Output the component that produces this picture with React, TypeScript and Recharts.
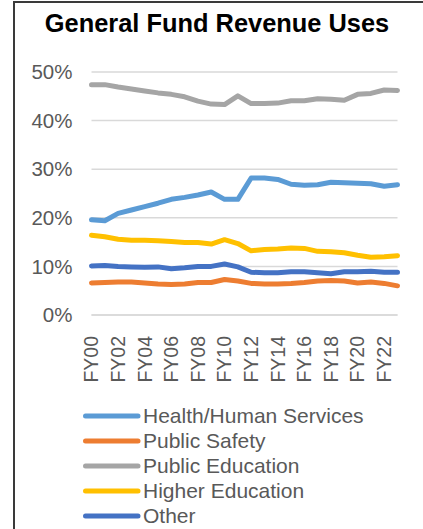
import { LineChart, Line, XAxis, YAxis, CartesianGrid } from "recharts";

const years = [
  "FY00", "FY01", "FY02", "FY03", "FY04", "FY05", "FY06", "FY07",
  "FY08", "FY09", "FY10", "FY11", "FY12", "FY13", "FY14", "FY15",
  "FY16", "FY17", "FY18", "FY19", "FY20", "FY21", "FY22", "FY23",
];

const healthHuman = [
  19.6, 19.4, 20.9, 21.6, 22.3, 23.0, 23.8, 24.2, 24.7, 25.3, 23.8, 23.8,
  28.2, 28.2, 27.9, 26.9, 26.7, 26.8, 27.3, 27.2, 27.1, 27.0, 26.5, 26.8,
];
const publicSafety = [
  6.6, 6.7, 6.8, 6.8, 6.6, 6.4, 6.3, 6.4, 6.7, 6.7, 7.3, 7.0,
  6.5, 6.4, 6.4, 6.5, 6.7, 7.0, 7.1, 7.0, 6.6, 6.8, 6.5, 6.0,
];
const publicEducation = [
  47.4, 47.4, 46.9, 46.5, 46.1, 45.7, 45.4, 44.9, 44.0, 43.4, 43.3, 45.1,
  43.5, 43.5, 43.6, 44.1, 44.1, 44.5, 44.4, 44.2, 45.4, 45.6, 46.3, 46.2,
];
const higherEducation = [
  16.4, 16.1, 15.6, 15.4, 15.4, 15.3, 15.1, 14.9, 14.9, 14.6, 15.5, 14.7,
  13.2, 13.5, 13.6, 13.8, 13.7, 13.1, 13.0, 12.8, 12.3, 11.9, 12.0, 12.2,
];
const other = [
  10.1, 10.2, 10.0, 9.9, 9.8, 9.9, 9.5, 9.7, 10.0, 10.0, 10.5, 9.9,
  8.8, 8.7, 8.7, 8.9, 8.9, 8.7, 8.5, 8.9, 8.9, 9.0, 8.8, 8.8,
];

const yTicks = [0, 10, 20, 30, 40, 50];

const series = [
  { key: "health", name: "Health/Human Services", color: "#5b9bd5", values: healthHuman },
  { key: "safety", name: "Public Safety", color: "#ed7d31", values: publicSafety },
  { key: "pubEd", name: "Public Education", color: "#a5a5a5", values: publicEducation },
  { key: "higherEd", name: "Higher Education", color: "#ffc000", values: higherEducation },
  { key: "other", name: "Other", color: "#4472c4", values: other },
];

const data = years.map((year, i) => {
  const row: Record<string, string | number> = { year };
  series.forEach((s) => {
    row[s.key] = s.values[i];
  });
  return row;
});

const FONT = "'Liberation Sans', Arial, sans-serif";
const TEXT = "#595959";

function YearTick(props: any) {
  const { x, y, payload } = props;
  return (
    <text
      transform={`translate(${x},${y + 13}) rotate(-90)`}
      textAnchor="end"
      dy="0.35em"
      fill={TEXT}
      fontSize={19.5}
      fontFamily={FONT}
    >
      {payload.value}
    </text>
  );
}

export default function App() {
  return (
    <div style={{ position: "absolute", left: 0, top: 0, width: 423, height: 529, background: "#fff", overflow: "hidden" }}>
      <div
        style={{
          position: "absolute",
          left: 13,
          top: 1,
          width: 410,
          height: 528,
          borderTop: "2px solid #3a3a3a",
          borderLeft: "2px solid #3a3a3a",
          boxSizing: "border-box",
        }}
      />
      <div
        style={{
          position: "absolute",
          left: 0,
          top: 10.5,
          width: 434,
          textAlign: "center",
          fontFamily: FONT,
          fontWeight: "bold",
          fontSize: 25.4,
          lineHeight: 1,
          color: "#000",
        }}
      >
        General Fund Revenue Uses
      </div>
      <div style={{ position: "absolute", left: 0, top: 0 }}>
        <LineChart
          width={423}
          height={400}
          data={data}
          margin={{ top: 72, right: 25.5, left: 0, bottom: 0 }}
        >
          <CartesianGrid vertical={false} stroke="#d9d9d9" strokeWidth={1.5} />
          <XAxis
            dataKey="year"
            interval={1}
            height={85}
            tick={<YearTick />}
            tickLine={false}
            axisLine={{ stroke: "#d9d9d9", strokeWidth: 1.5 }}
          />
          <YAxis
            width={91.5}
            domain={[0, 50]}
            ticks={yTicks}
            tickFormatter={(v) => `${v}%`}
            axisLine={false}
            tickLine={false}
            tickSize={6}
            tickMargin={13}
            tick={{ fill: TEXT, fontSize: 20.5, fontFamily: FONT }}
          />
          {series.map((s) => (
            <Line
              key={s.key}
              type="linear"
              dataKey={s.key}
              name={s.name}
              stroke={s.color}
              strokeWidth={5}
              strokeLinecap="round"
              strokeLinejoin="round"
              dot={false}
              activeDot={false}
              isAnimationActive={false}
            />
          ))}
        </LineChart>
      </div>
      <div style={{ position: "absolute", left: 83, top: 403 }}>
        {series.map((s) => (
          <div key={s.key} style={{ display: "flex", alignItems: "center", height: 25 }}>
            <svg width={60} height={10} style={{ display: "block" }}>
              <line x1={2.5} y1={5} x2={55} y2={5} stroke={s.color} strokeWidth={5} strokeLinecap="round" />
            </svg>
            <span style={{ fontFamily: FONT, fontSize: 21, color: TEXT, whiteSpace: "nowrap", lineHeight: 1 }}>
              {s.name}
            </span>
          </div>
        ))}
      </div>
    </div>
  );
}
